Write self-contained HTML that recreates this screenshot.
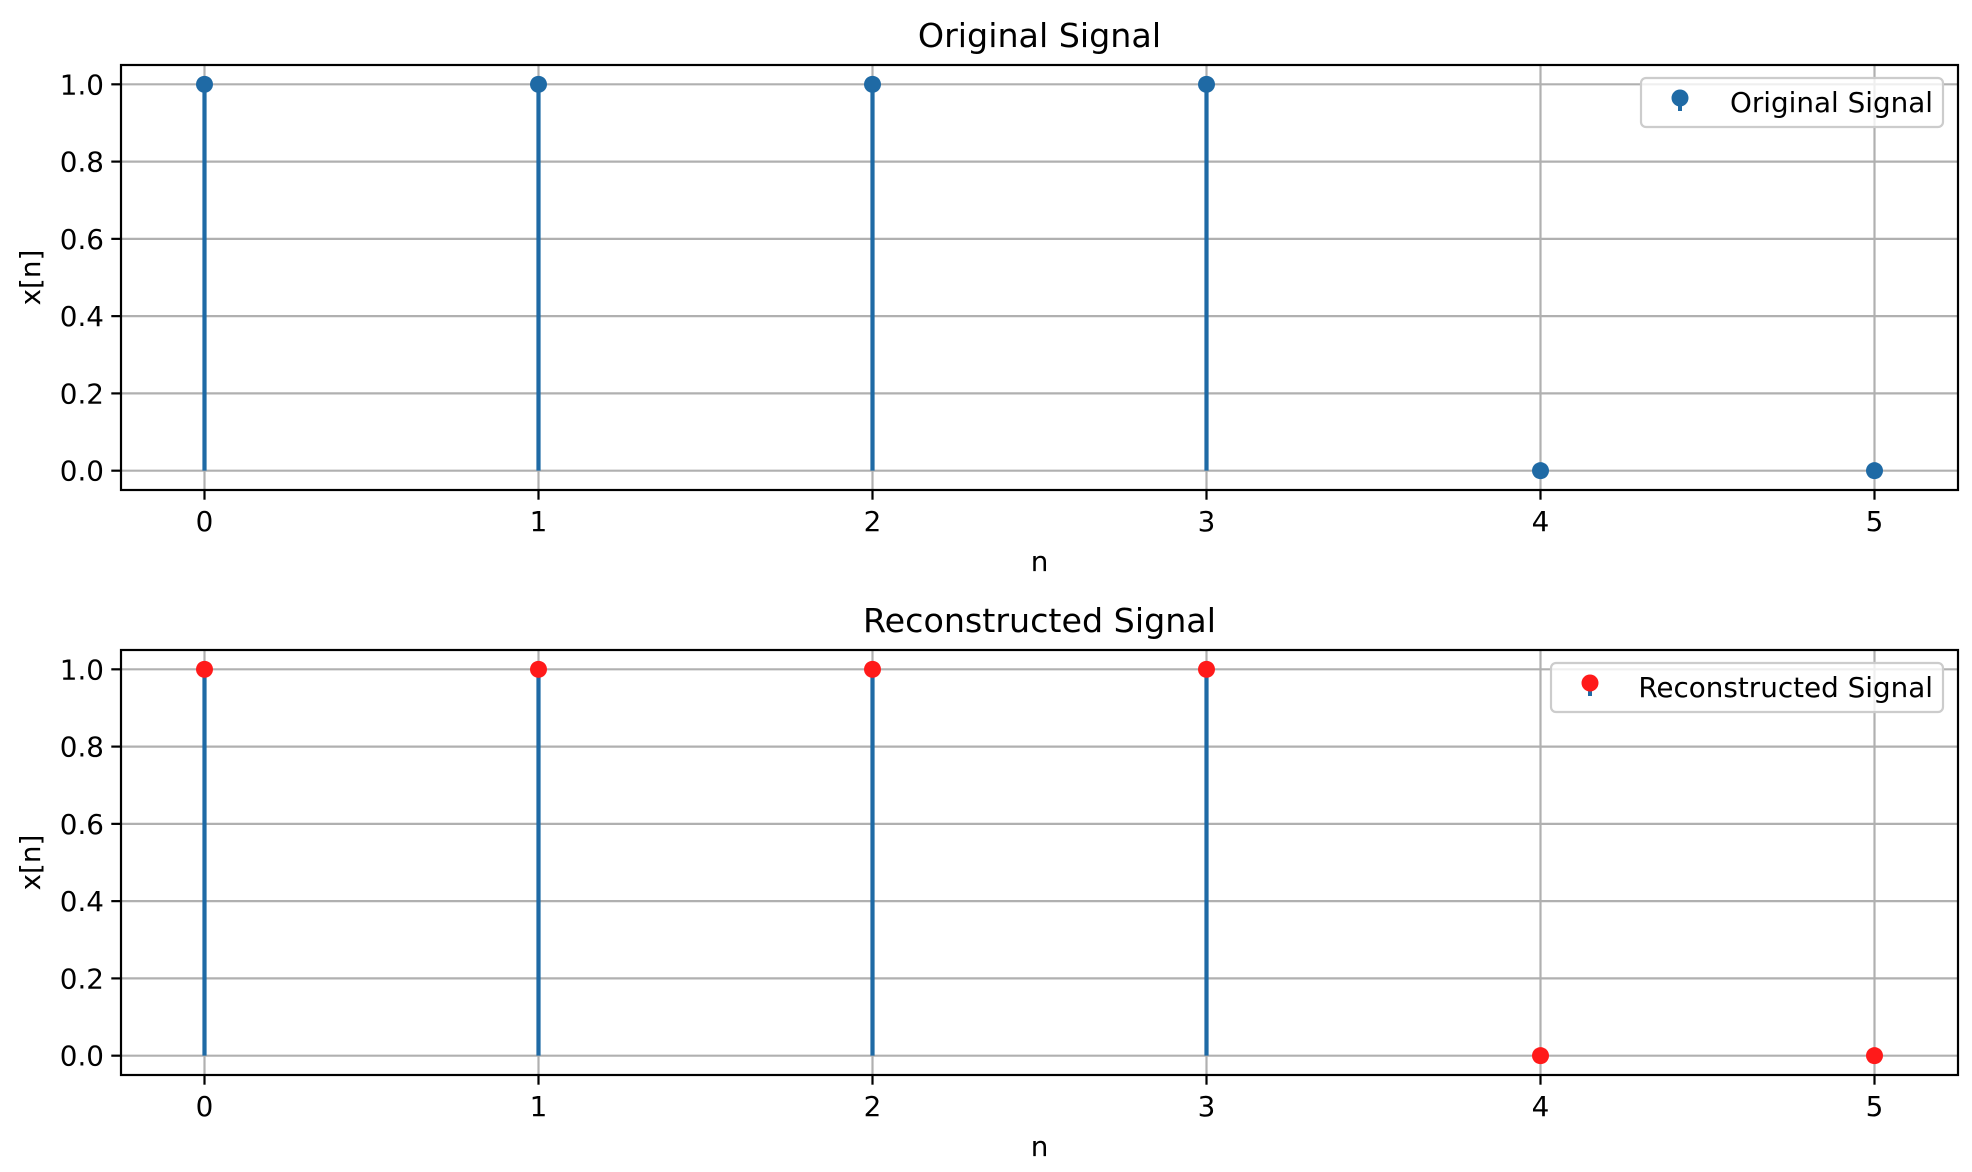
<!DOCTYPE html>
<html><head><meta charset="utf-8"><style>
html,body{margin:0;padding:0;background:#fff;}
svg{display:block;font-family:"DejaVu Sans","Liberation Sans",sans-serif;}
</style></head><body>
<svg id="fig" width="1972" height="1172" viewBox="0 0 1972 1172" xmlns="http://www.w3.org/2000/svg"></svg>
<script>
const nValues = [0, 1, 2, 3, 4, 5];
const originalValues = [1, 1, 1, 1, 0, 0];
const reconstructedValues = [1, 1, 1, 1, 0, 0];
const xTicks = [0, 1, 2, 3, 4, 5];
const yTicks = [0.0, 0.2, 0.4, 0.6, 0.8, 1.0];
const panelTitles = ["Original Signal", "Reconstructed Signal"];

const NS = "http://www.w3.org/2000/svg";
const svg = document.getElementById('fig');
function mk(tag, attrs, parent) {
  const e = document.createElementNS(NS, tag);
  for (const k in attrs) e.setAttribute(k, attrs[k]);
  (parent || svg).appendChild(e);
  return e;
}
const L = 121, R = 1958;
const xMin = -0.25, xMax = 5.25;
function drawPanel(top, bottom, values, markerColor, title, legendLabel, legendX, slug) {
  const g = mk('g', {});
  
  
  const yMin = -0.05, yMax = 1.05;
  const xs = v => L + (v - xMin) / (xMax - xMin) * (R - L);
  const ys = v => bottom - (v - yMin) / (yMax - yMin) * (bottom - top);
  // grid
  xTicks.forEach(t => {
    const l = mk('line', {x1: xs(t), x2: xs(t), y1: top, y2: bottom, stroke: '#b0b0b0', 'stroke-width': 2.2}, g);
    
    
  });
  yTicks.forEach(t => {
    const l = mk('line', {x1: L, x2: R, y1: ys(t), y2: ys(t), stroke: '#b0b0b0', 'stroke-width': 2.2}, g);
    
    
  });
  // stems
  nValues.forEach((n, i) => {
    const s = mk('line', {x1: xs(n), x2: xs(n), y1: ys(0), y2: ys(values[i]), stroke: '#1f6aa5', 'stroke-width': 4.2}, g);
    
    
  });
  nValues.forEach((n, i) => {
    const c = mk('circle', {cx: xs(n), cy: ys(values[i]), r: 8.5, fill: markerColor}, g);
    
    
  });
  // frame
  const fr = mk('rect', {x: L, y: top, width: R - L, height: bottom - top, fill: 'none', stroke: '#000', 'stroke-width': 2.2}, g);
  
  
  // ticks
  xTicks.forEach(t => {
    mk('line', {x1: xs(t), x2: xs(t), y1: bottom, y2: bottom + 9.7, stroke: '#000', 'stroke-width': 2.2}, g);
    const tx = mk('text', {x: xs(t), y: bottom + 41, 'text-anchor': 'middle', 'font-size': 27.8, fill: '#000'}, g);
    tx.textContent = t;
    
    
  });
  yTicks.forEach(t => {
    mk('line', {x1: L - 9.7, x2: L, y1: ys(t), y2: ys(t), stroke: '#000', 'stroke-width': 2.2}, g);
    const tx = mk('text', {x: L - 17, y: ys(t) + 10, 'text-anchor': 'end', 'font-size': 27.8, fill: '#000'}, g);
    tx.textContent = t.toFixed(1);
    
    
  });
  const xl = mk('text', {x: (L + R) / 2, y: bottom + 81, 'text-anchor': 'middle', 'font-size': 27.8}, g);
  xl.textContent = 'n';
  
  
  const cy = (top + bottom) / 2;
  const yl = mk('text', {x: 40, y: cy, 'text-anchor': 'middle', 'font-size': 27.8, transform: 'rotate(-90 40 ' + cy + ')'}, g);
  yl.textContent = 'x[n]';
  
  
  const tt = mk('text', {x: (L + R) / 2, y: top - 18, 'text-anchor': 'middle', 'font-size': 33.3}, g);
  tt.textContent = title;
  
  
  // legend
  const lg = mk('g', {}, g);
  
  
  const ly = top + 13;
  mk('rect', {x: legendX, y: ly, width: 1943 - legendX, height: 49, rx: 5, fill: '#fff', 'fill-opacity': 0.8, stroke: '#ccc', 'stroke-width': 2.2}, lg);
  mk('line', {x1: legendX + 39, x2: legendX + 39, y1: ly + 22, y2: ly + 33, stroke: '#1f6aa5', 'stroke-width': 4}, lg);
  mk('circle', {cx: legendX + 39, cy: ly + 20, r: 8.5, fill: markerColor}, lg);
  const lt = mk('text', {x: 1933, y: ly + 34, 'text-anchor': 'end', 'font-size': 27.8}, lg);
  lt.textContent = legendLabel;
  
  
}
drawPanel(65, 490, originalValues, '#1f6aa5', panelTitles[0], 'Original Signal', 1641, 'original');
drawPanel(650, 1075, reconstructedValues, '#ff1a1a', panelTitles[1], 'Reconstructed Signal', 1551, 'reconstructed');
</script>
</body></html>
